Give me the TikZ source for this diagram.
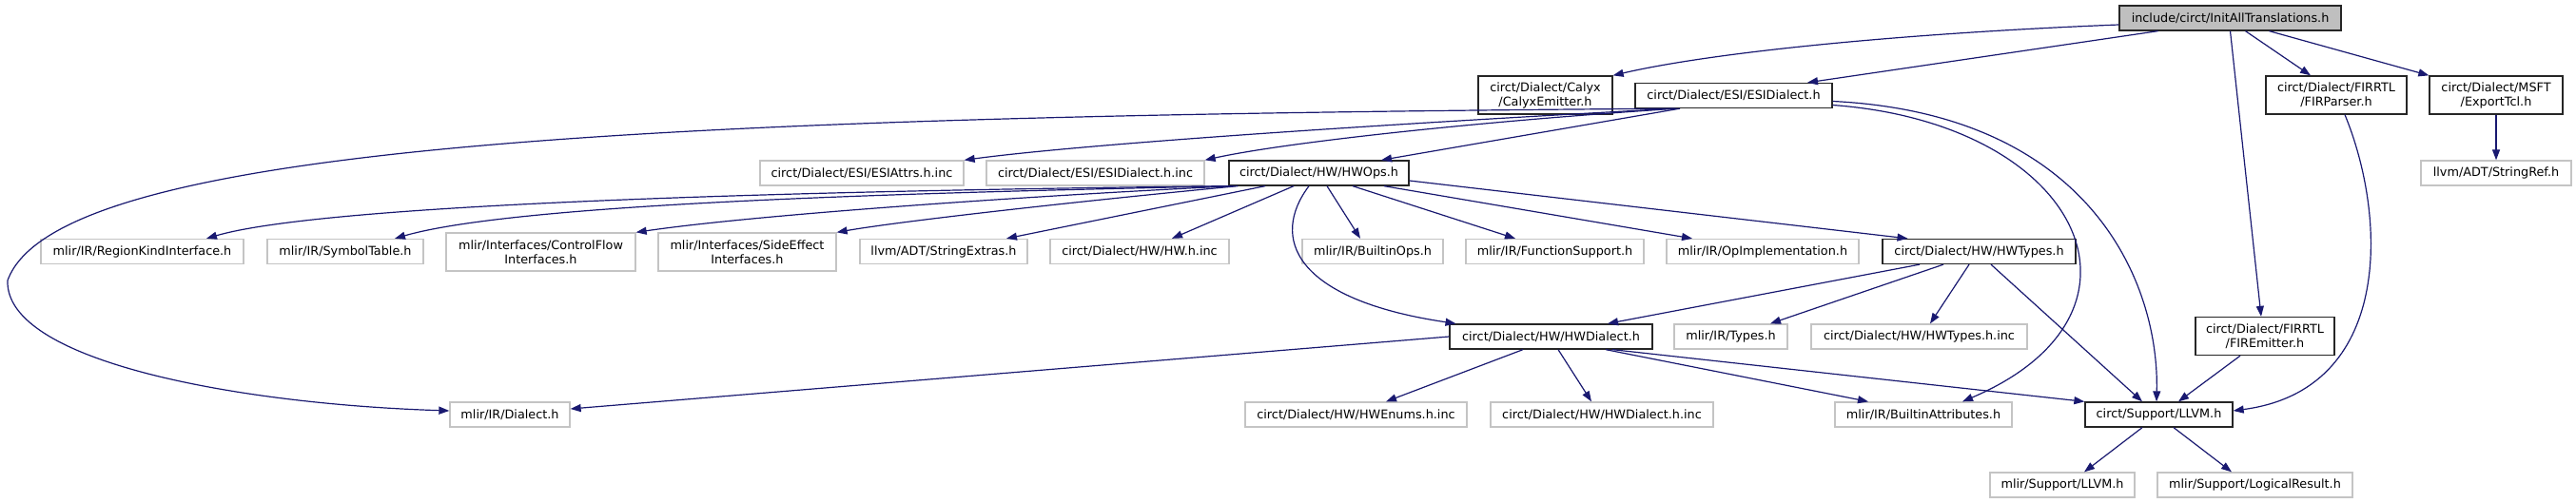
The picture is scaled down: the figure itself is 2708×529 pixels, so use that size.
\documentclass[tikz,border=0pt]{standalone}
\usepackage{fontspec}
\setmainfont{DejaVu Sans}
\usepackage{tikz}
\usetikzlibrary{arrows.meta, positioning}
\definecolor{edgeblue}{RGB}{25,25,112}
\definecolor{rootgray}{RGB}{191,191,191}
\definecolor{extgray}{RGB}{196,196,196}

\begin{document}
\begin{tikzpicture}[
  x=1pt, y=-1pt,
  filebox/.style={draw=black!85, fill=white, line width=1.3pt,
              font=\fontsize{12.8}{15}\selectfont, align=center,
              inner xsep=4pt, inner ysep=2pt, minimum height=26pt},
  extbox/.style={filebox, draw=extgray},
  rootbox/.style={filebox, fill=rootgray},
  twoline/.style={minimum height=40pt},
  arr/.style={-{Triangle[length=11pt,width=8pt]}, draw=edgeblue,
              line width=1.2pt},
]
\useasboundingbox (0,0) rectangle (2708,529);

% ── top rows ────────────────────────────────────────────────
\node[rootbox, minimum width=233pt] (root) at (2344.5,19)
  {include/circt/InitAllTranslations.h};

\node[filebox, twoline, minimum width=141pt] (calyx) at (1624.5,100)
  {circt/Dialect/Calyx\\/CalyxEmitter.h};
\node[filebox, minimum width=207pt] (esi) at (1822.5,100.5)
  {circt/Dialect/ESI/ESIDialect.h};
\node[filebox, twoline, minimum width=148pt] (firparser) at (2456,100)
  {circt/Dialect/FIRRTL\\/FIRParser.h};
\node[filebox, twoline, minimum width=140pt] (exporttcl) at (2624,100)
  {circt/Dialect/MSFT\\/ExportTcl.h};

\node[extbox, minimum width=214pt] (esiattrs) at (906,182)
  {circt/Dialect/ESI/ESIAttrs.h.inc};
\node[extbox, minimum width=229pt] (esiinc) at (1151.5,182)
  {circt/Dialect/ESI/ESIDialect.h.inc};
\node[filebox, minimum width=189pt] (hwops) at (1386.5,182)
  {circt/Dialect/HW/HWOps.h};
\node[extbox, minimum width=158pt] (stringref) at (2624,182)
  {llvm/ADT/StringRef.h};

% ── HWOps row ───────────────────────────────────────────────
\node[extbox, minimum width=213pt] (regionkind) at (149.5,264.5)
  {mlir/IR/RegionKindInterface.h};
\node[extbox, minimum width=164pt] (symboltable) at (363,264.5)
  {mlir/IR/SymbolTable.h};
\node[extbox, twoline, minimum width=199pt] (controlflow) at (568.5,265)
  {mlir/Interfaces/ControlFlow\\Interfaces.h};
\node[extbox, twoline, minimum width=187pt] (sideeffect) at (785.5,265)
  {mlir/Interfaces/SideEffect\\Interfaces.h};
\node[extbox, minimum width=176pt] (stringextras) at (992,264.5)
  {llvm/ADT/StringExtras.h};
\node[extbox, minimum width=188pt] (hwinc) at (1198,264.5)
  {circt/Dialect/HW/HW.h.inc};
\node[extbox, minimum width=148pt] (builtinops) at (1443,264.5)
  {mlir/IR/BuiltinOps.h};
\node[extbox, minimum width=187pt] (functionsupport) at (1634.5,264.5)
  {mlir/IR/FunctionSupport.h};
\node[extbox, minimum width=202pt] (opimpl) at (1853,264.5)
  {mlir/IR/OpImplementation.h};
\node[filebox, minimum width=203pt] (hwtypes) at (2080.5,264.5)
  {circt/Dialect/HW/HWTypes.h};

% ── HWDialect row ───────────────────────────────────────────
\node[filebox, minimum width=213pt] (hwdialect) at (1630.5,354)
  {circt/Dialect/HW/HWDialect.h};
\node[extbox, minimum width=119pt] (types) at (1819.5,354)
  {mlir/IR/Types.h};
\node[extbox, minimum width=227pt] (hwtypesinc) at (2017.5,354)
  {circt/Dialect/HW/HWTypes.h.inc};
\node[filebox, twoline, minimum width=146pt] (firemitter) at (2381,353.5)
  {circt/Dialect/FIRRTL\\/FIREmitter.h};

% ── bottom rows ─────────────────────────────────────────────
\node[extbox, minimum width=126pt] (dialect) at (536,436)
  {mlir/IR/Dialect.h};
\node[extbox, minimum width=233pt] (hwenums) at (1425.5,436)
  {circt/Dialect/HW/HWEnums.h.inc};
\node[extbox, minimum width=234pt] (hwdialectinc) at (1684,436)
  {circt/Dialect/HW/HWDialect.h.inc};
\node[extbox, minimum width=186pt] (builtinattr) at (2022,436)
  {mlir/IR/BuiltinAttributes.h};
\node[filebox, minimum width=155pt] (llvm) at (2269.5,436)
  {circt/Support/LLVM.h};

\node[extbox, minimum width=152pt] (mlirllvm) at (2168,510)
  {mlir/Support/LLVM.h};
\node[extbox, minimum width=205pt] (logicalresult) at (2370.5,510)
  {mlir/Support/LogicalResult.h};

% ── edges from root ─────────────────────────────────────────
\draw[arr] ([yshift=-7pt]root.west) .. controls (2000,35) and (1800,55) .. (calyx.north east);
\draw[arr] ([xshift=-76pt]root.south) -- ([xshift=77.5pt]esi.north);
\draw[arr] (root.south) -- ([xshift=-4pt]firemitter.north);
\draw[arr] ([xshift=16pt]root.south) -- ([xshift=-27pt]firparser.north);
\draw[arr] ([xshift=41pt]root.south) -- (exporttcl.north west);
\draw[arr] (exporttcl) -- (stringref);
\draw[arr] ([xshift=9pt]firparser.south) .. controls (2510,230) and (2515,410) .. ([yshift=4pt]llvm.east);

% ── edges from ESIDialect ───────────────────────────────────
\draw[arr] ([xshift=-64pt]esi.south) .. controls (700,122) and (60,150) .. (8,295)
  .. controls (5,380) and (250,425) .. ([yshift=4pt]dialect.west);
\draw[arr] ([xshift=-62pt]esi.south) .. controls (1500,128) and (1150,150) .. (esiattrs.north east);
\draw[arr] ([xshift=-60pt]esi.south) .. controls (1550,128) and (1350,150) .. (esiinc.north east);
\draw[arr] ([xshift=-56.5pt]esi.south) -- ([xshift=65.5pt]hwops.north);
\draw[arr] ([yshift=-6pt]esi.east) .. controls (2200,120) and (2270,300) .. ([xshift=-2.5pt]llvm.north);
\draw[arr] ([yshift=-10pt]esi.east) .. controls (2190,130) and (2280,330) .. ([xshift=41pt]builtinattr.north);

% ── edges from HWOps ────────────────────────────────────────
\draw[arr] (hwops.south west) .. controls (900,200) and (350,212) .. ([xshift=67.5pt]regionkind.north);
\draw[arr] ([xshift=3pt]hwops.south west) .. controls (1000,202) and (550,212) .. ([xshift=52pt]symboltable.north);
\draw[arr] ([xshift=6pt]hwops.south west) .. controls (1100,205) and (800,225) .. (controlflow.north east);
\draw[arr] ([xshift=10pt]hwops.south west) .. controls (1150,210) and (950,232) .. (sideeffect.north east);
\draw[arr] ([xshift=-56.5pt]hwops.south) -- ([xshift=66pt]stringextras.north);
\draw[arr] ([xshift=-26.5pt]hwops.south) -- ([xshift=34pt]hwinc.north);
\draw[arr] ([xshift=8.5pt]hwops.south) -- ([xshift=-13pt]builtinops.north);
\draw[arr] ([xshift=35.5pt]hwops.south) -- ([xshift=-41.5pt]functionsupport.north);
\draw[arr] ([xshift=68.5pt]hwops.south) -- ([xshift=-74pt]opimpl.north);
\draw[arr] ([yshift=-8pt]hwops.east) -- ([xshift=-75pt]hwtypes.north);
\draw[arr] ([xshift=-10.5pt]hwops.south) .. controls (1335,250) and (1360,315) .. ([xshift=-100pt]hwdialect.north);

% ── edges from HWTypes ──────────────────────────────────────
\draw[arr] ([xshift=-62.5pt]hwtypes.south) -- ([xshift=59.5pt]hwdialect.north);
\draw[arr] ([xshift=-37.5pt]hwtypes.south) -- ([xshift=41.5pt]types.north);
\draw[arr] ([xshift=-10.5pt]hwtypes.south) -- ([xshift=11.5pt]hwtypesinc.north);
\draw[arr] ([xshift=12.5pt]hwtypes.south) -- ([xshift=-17.5pt]llvm.north);
\draw[arr] ([xshift=-26pt]firemitter.south) -- ([xshift=20.5pt]llvm.north);

% ── edges from HWDialect ────────────────────────────────────
\draw[arr] (hwdialect.west) -- ([yshift=6pt]dialect.east);
\draw[arr] ([xshift=-29.5pt]hwdialect.south) -- ([xshift=31.5pt]hwenums.north);
\draw[arr] ([xshift=7.5pt]hwdialect.south) -- ([xshift=-11pt]hwdialectinc.north);
\draw[arr] ([xshift=57.5pt]hwdialect.south) -- ([xshift=-58pt]builtinattr.north);
\draw[arr] ([xshift=64.5pt]hwdialect.south) -- (llvm.north west);

% ── edges from LLVM ─────────────────────────────────────────
\draw[arr] ([xshift=-17.5pt]llvm.south) -- ([xshift=23pt]mlirllvm.north);
\draw[arr] ([xshift=15.5pt]llvm.south) -- ([xshift=-24.5pt]logicalresult.north);

\end{tikzpicture}
\end{document}
